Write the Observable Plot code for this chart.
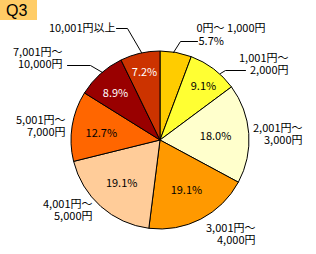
<!DOCTYPE html>
<html>
<head>
<meta charset="utf-8">
<script src="https://cdn.jsdelivr.net/npm/d3@7"></script>
<script src="https://cdn.jsdelivr.net/npm/@observablehq/plot@0.6"></script>
<style>
  body { margin: 0; background: #fff; }
  #wrap { position: relative; width: 316px; height: 254px; }
  #q { position: absolute; left: 0; top: 0; width: 37px; height: 20px; background: #FFCC66;
       font: 16px "Liberation Sans", Arial, sans-serif; line-height: 21px; color: #000; padding-left: 6px; box-sizing: border-box; }
  svg { display: block; }
</style>
</head>
<body>
<div id="wrap"><div id="q">Q3</div></div>
<script>
// ---- data ----
const categories = ["0円～ 1,000円", "1,001円～2,000円", "2,001円～3,000円", "3,001円～4,000円",
                    "4,001円～5,000円", "5,001円～7,000円", "7,001円～10,000円", "10,001円以上"];
const shares = [5.7, 9.1, 18.0, 19.1, 19.1, 12.7, 8.9, 7.2];
const colors = ["#FFCC00", "#FFFF33", "#FFFFCC", "#FF9900", "#FFCC99", "#FF6600", "#990000", "#CC3300"];
const pctTextColors = ["#000", "#000", "#000", "#000", "#000", "#000", "#fff", "#fff"];
const catLines = [["0円～ 1,000円"], ["1,001円～", "2,000円"], ["2,001円～", "3,000円"], ["3,001円～", "4,000円"],
                  ["4,001円～", "5,000円"], ["5,001円～", "7,000円"], ["7,001円～", "10,000円"], ["10,001円以上"]];

// ---- layout (pixels in the 316x254 frame) ----
const CX = 160, CY = 140, R = 89;
// inside percent label placement: [angle from 12 o'clock (deg), radius fraction]; null = outside
const pctPlace = [null, [38.5, 0.775], [85.8, 0.62], [152.5, 0.63], [222.2, 0.65], [276.8, 0.67], [316.2, 0.73], [346.8, 0.785]];
// outside category labels: [x, y (middle), anchor]
const catPlace = [[196, 28, "start"], [288, 64, "end"], [302, 134, "end"], [255, 234, "end"],
                  [92, 210, "end"], [65, 126, "end"], [62, 58, "end"], [115, 28, "end"]];
const firstPctPlace = [198, 41];
const leaders = [
  [[173, 52], [180, 41], [197, 41]],
  [[220, 73], [225, 70], [245, 70]],
  [[67, 65], [90, 65], [102, 72]],
  [[116, 28], [127, 28], [141, 52]]
];

const px = (x) => (x - CX) / R;
const py = (y) => (CY - y) / R;

const pieData = d3.pie().sort(null).value(d => d)(shares).map((a, i) => ({...a, cat: categories[i], i}));

const inside = [];
pieData.forEach((d, i) => {
  if (pctPlace[i]) {
    const a = pctPlace[i][0] * Math.PI / 180, f = pctPlace[i][1];
    inside.push({x: f * Math.sin(a), y: f * Math.cos(a), text: shares[i].toFixed(1) + "%", color: pctTextColors[i]});
  }
});
const outsideText = [];
catPlace.forEach((p, i) => outsideText.push({x: px(p[0]), y: py(p[1]), text: catLines[i].join("\n"), anchor: p[2]}));
outsideText.push({x: px(firstPctPlace[0]), y: py(firstPctPlace[1]), text: shares[0].toFixed(1) + "%", anchor: "start"});

const leaderPts = [];
leaders.forEach((l, k) => l.forEach(p => leaderPts.push({x: px(p[0]), y: py(p[1]), k})));

function pieMark(...args) {
  const scales = args.find(a => a && typeof a.x === "function" && typeof a.y === "function");
  const cx = scales.x(0), cy = scales.y(0), r = scales.x(1) - scales.x(0);
  const color = scales.color || ((c) => colors[categories.indexOf(c)]);
  const g = d3.create("svg:g").attr("transform", `translate(${cx},${cy})`);
  const arc = d3.arc().innerRadius(0).outerRadius(r);
  g.selectAll("path").data(pieData).join("path")
    .attr("d", arc)
    .attr("fill", d => color(d.cat))
    .attr("stroke", "#000")
    .attr("stroke-width", 1);
  return g.node();
}

const font = "'Noto Sans CJK JP', 'Noto Sans', sans-serif";
const plot = Plot.plot({
  width: 316,
  height: 254,
  marginLeft: CX - R,
  marginRight: 316 - (CX + R),
  marginTop: CY - R,
  marginBottom: 254 - (CY + R),
  x: {domain: [-1, 1], axis: null},
  y: {domain: [-1, 1], axis: null},
  color: {domain: categories, range: colors},
  style: {fontFamily: font, fontSize: "11px", background: "#fff"},
  marks: [
    Plot.dot(pieData, {x: () => 0, y: () => 0, fill: "cat", r: 0}),
    pieMark,
    Plot.line(leaderPts, {x: "x", y: "y", z: "k", stroke: "#000", strokeWidth: 1, curve: "linear"}),
    Plot.text(inside, {x: "x", y: "y", text: "text", fill: d => d.color, fontSize: 11}),
    Plot.text(outsideText.filter(d => d.anchor === "start"), {x: "x", y: "y", text: "text", textAnchor: "start", lineAnchor: "middle", lineHeight: 1.08, fontSize: 11, fill: "#000"}),
    Plot.text(outsideText.filter(d => d.anchor === "end"), {x: "x", y: "y", text: "text", textAnchor: "end", lineAnchor: "middle", lineHeight: 1.08, fontSize: 11, fill: "#000"})
  ]
});
document.getElementById("wrap").appendChild(plot);
</script>
</body>
</html>
